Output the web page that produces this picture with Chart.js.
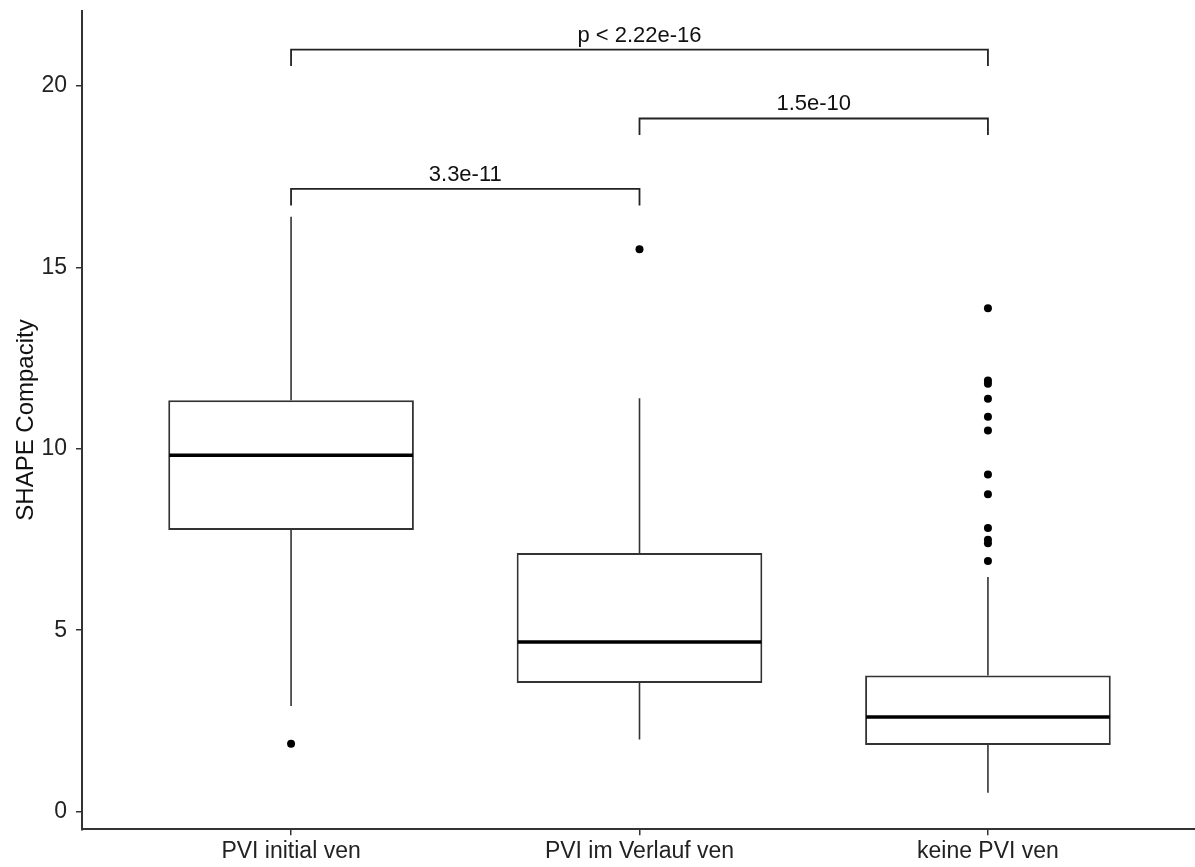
<!DOCTYPE html>
<html>
<head>
<meta charset="utf-8">
<title>SHAPE Compacity</title>
<script src="https://cdn.jsdelivr.net/npm/chart.js@4/dist/chart.umd.min.js"></script>
<style>
  html, body { margin: 0; padding: 0; background: #fff; overflow: hidden; }
  canvas { display: block; }
</style>
</head>
<body>
<canvas id="chart" width="1201" height="867"></canvas>
<script>
// Groups and their five-number summaries
const categories   = ['PVI initial ven', 'PVI im Verlauf ven', 'keine PVI ven'];
const whiskerLow   = [2.91, 1.99, 0.52];
const quartile1    = [7.76, 3.545, 1.84];
const medians      = [9.82, 4.675, 2.61];
const quartile3    = [11.34, 7.13, 3.75];
const whiskerHigh  = [16.39, 11.39, 6.47];

// Points beyond the whiskers, per group
const outliersG1 = [1.87];
const outliersG2 = [15.50];
const outliersG3 = [13.87, 11.88, 11.79, 11.38, 10.88, 10.50, 9.29, 8.75, 7.82, 7.49, 7.40, 6.91];

// Pairwise comparisons (group numbers are 1-based)
const bracketFrom   = [1, 2, 1];
const bracketTo     = [3, 3, 2];
const bracketLevel  = [21.0, 19.10, 17.16];
const bracketLabels = ['p < 2.22e-16', '1.5e-10', '3.3e-11'];

const yTickValues = [0, 5, 10, 15, 20];

const FONT = "'Liberation Sans', Arial, Helvetica, sans-serif";
Chart.defaults.font.family = FONT;

const outlierPoints = []
  .concat(outliersG1.map(v => ({ x: 1, y: v })))
  .concat(outliersG2.map(v => ({ x: 2, y: v })))
  .concat(outliersG3.map(v => ({ x: 3, y: v })));

// Whiskers go under the boxes, medians and brackets on top
const boxExtras = {
  id: 'boxExtras',
  beforeDatasetsDraw(chart) {
    const { ctx, scales: { x, y } } = chart;
    ctx.save();
    ctx.strokeStyle = '#333';
    ctx.lineWidth = 1.6;
    categories.forEach((_, i) => {
      const cx = x.getPixelForValue(i + 1);
      ctx.beginPath();
      ctx.moveTo(cx, y.getPixelForValue(quartile3[i]));
      ctx.lineTo(cx, y.getPixelForValue(whiskerHigh[i]));
      ctx.moveTo(cx, y.getPixelForValue(quartile1[i]));
      ctx.lineTo(cx, y.getPixelForValue(whiskerLow[i]));
      ctx.stroke();
    });
    ctx.restore();
  },
  afterDatasetsDraw(chart) {
    const { ctx, scales: { x, y } } = chart;
    const boxes = chart.getDatasetMeta(0).data;
    ctx.save();
    ctx.strokeStyle = '#000';
    ctx.lineWidth = 3.4;
    boxes.forEach((bar, i) => {
      const my = y.getPixelForValue(medians[i]);
      ctx.beginPath();
      ctx.moveTo(bar.x - bar.width / 2 + 1, my);
      ctx.lineTo(bar.x + bar.width / 2 - 1, my);
      ctx.stroke();
    });

    // significance brackets
    const tip = 16.5;
    ctx.lineWidth = 1.8;
    ctx.strokeStyle = '#222';
    ctx.fillStyle = '#111';
    ctx.font = '22px ' + FONT;
    ctx.textAlign = 'center';
    ctx.textBaseline = 'alphabetic';
    bracketLabels.forEach((label, k) => {
      const x1 = x.getPixelForValue(bracketFrom[k]);
      const x2 = x.getPixelForValue(bracketTo[k]);
      const by = y.getPixelForValue(bracketLevel[k]);
      ctx.beginPath();
      ctx.moveTo(x1, by + tip);
      ctx.lineTo(x1, by);
      ctx.lineTo(x2, by);
      ctx.lineTo(x2, by + tip);
      ctx.stroke();
      ctx.fillText(label, (x1 + x2) / 2, by - 8);
    });
    ctx.restore();
  }
};

new Chart(document.getElementById('chart'), {
  data: {
    datasets: [
      {
        type: 'bar',
        data: categories.map((_, i) => ({ x: i + 1, y: [quartile1[i], quartile3[i]] })),
        backgroundColor: '#ffffff',
        borderColor: '#333',
        borderWidth: 2,
        borderSkipped: false,
        barPercentage: 0.705,
        categoryPercentage: 1.0
      },
      {
        type: 'scatter',
        data: outlierPoints,
        pointRadius: 4,
        pointHoverRadius: 4,
        backgroundColor: '#000',
        borderWidth: 0
      }
    ]
  },
  options: {
    responsive: false,
    animation: false,
    events: [],
    layout: { padding: { top: 10.7, right: 0, bottom: 0, left: 0 } },
    plugins: { legend: { display: false }, tooltip: { enabled: false } },
    scales: {
      x: {
        type: 'linear',
        min: 0.4,
        max: 3.6,
        offset: false,
        afterBuildTicks: s => { s.ticks = categories.map((_, i) => ({ value: i + 1 })); },
        afterFit: s => { s.height = 37.7; s.paddingLeft = 0; s.paddingRight = 0; },
        ticks: {
          callback: v => categories[v - 1],
          font: { size: 23 },
          color: '#222',
          padding: 3,
          maxRotation: 0,
          autoSkip: false
        },
        grid: { offset: false, drawOnChartArea: false, drawTicks: true, tickLength: 6, color: '#333', lineWidth: 1.5 },
        border: { display: true, color: '#333', width: 2 }
      },
      y: {
        type: 'linear',
        min: -0.485,
        max: 22.07,
        afterBuildTicks: s => { s.ticks = yTickValues.map(v => ({ value: v })); },
        afterFit: s => { s.width = 82; s.paddingTop = 0; s.paddingBottom = 0; },
        ticks: {
          font: { size: 23 },
          color: '#222',
          padding: 9
        },
        grid: { drawOnChartArea: false, drawTicks: true, tickLength: 6, color: '#333', lineWidth: 1.5 },
        border: { display: true, color: '#333', width: 2 },
        title: {
          display: true,
          text: 'SHAPE Compacity',
          font: { size: 24 },
          color: '#111',
          padding: { top: 12, bottom: 0 }
        }
      }
    }
  },
  plugins: [boxExtras]
});
</script>
</body>
</html>
